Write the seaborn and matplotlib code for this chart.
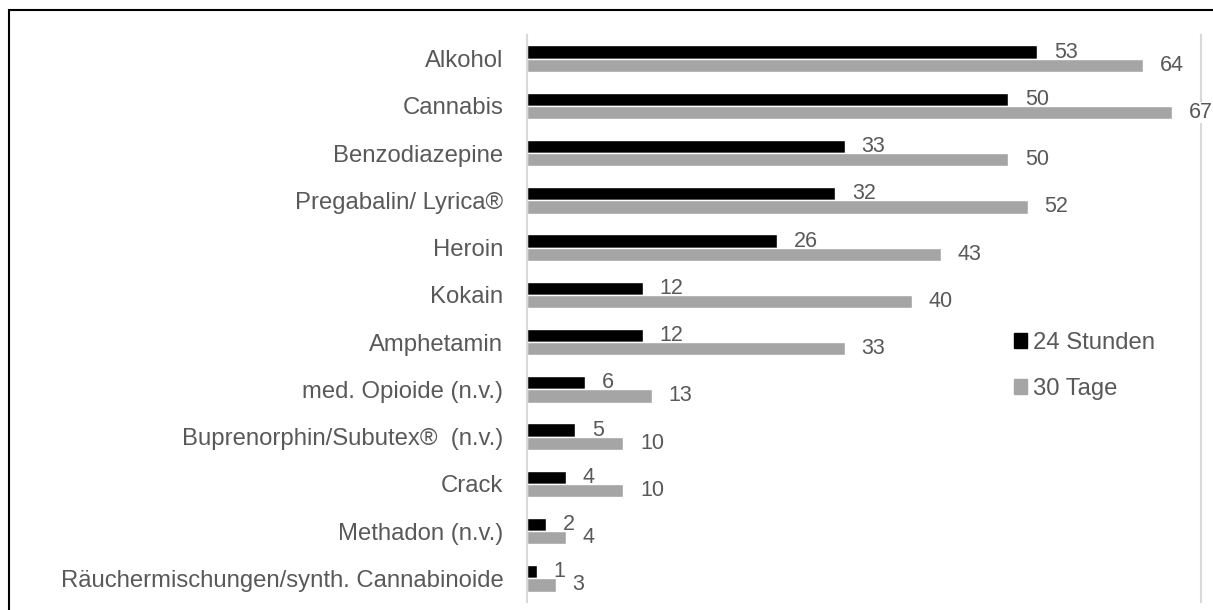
import pandas as pd
import matplotlib.pyplot as plt
import matplotlib.patches as mpatches
import seaborn as sns

substanzen = ['Alkohol', 'Cannabis', 'Benzodiazepine', 'Pregabalin/ Lyrica®', 'Heroin',
              'Kokain', 'Amphetamin', 'med. Opioide (n.v.)', 'Buprenorphin/Subutex®  (n.v.)',
              'Crack', 'Methadon (n.v.)', 'Räuchermischungen/synth. Cannabinoide']
stunden_24 = [53, 50, 33, 32, 26, 12, 12, 6, 5, 4, 2, 1]
tage_30 = [64, 67, 50, 52, 43, 40, 33, 13, 10, 10, 4, 3]
zeitraeume = ['24 Stunden', '30 Tage']

df = pd.DataFrame({
    'Substanz': substanzen * 2,
    'Wert': stunden_24 + tage_30,
    'Zeitraum': [zeitraeume[0]] * len(substanzen) + [zeitraeume[1]] * len(substanzen),
})

sns.set_theme(style='white')
plt.rcParams['font.family'] = ['Liberation Sans', 'DejaVu Sans']
txt = '#595959'
farben = ['#000000', '#A5A5A5']

fig = plt.figure(figsize=(12.13, 6.10), dpi=100)
ax = fig.add_axes([527 / 1213, 1 - 602 / 610, (1201 - 527) / 1213, (602 - 35) / 610])

sns.barplot(data=df, y='Substanz', x='Wert', hue='Zeitraum', orient='h',
            palette=farben, width=0.56, ax=ax, legend=False, saturation=1)

ax.bar_label(ax.containers[0], padding=12, fontsize=15.5, color=txt)
# Beschriftung der grauen Balken verdeckt die rechte Linie (wie im Original)
for t in ax.bar_label(ax.containers[1], padding=12, fontsize=15.5, color=txt):
    t.set_bbox(dict(facecolor='white', edgecolor='none', pad=0.3))

ax.set_xlim(0, 70)
ax.set_xlabel(None)
ax.set_ylabel(None)
ax.set_xticks([])
ax.tick_params(axis='y', length=0, pad=17, labelsize=17.2, labelcolor=txt)
for s in ['top', 'bottom']:
    ax.spines[s].set_visible(False)
ax.spines['left'].set_color('#D9D9D9')
ax.spines['left'].set_linewidth(1.5)
ax.spines['right'].set_color('#D9D9D9')
ax.spines['right'].set_linewidth(1.5)

handles = [mpatches.Patch(color=c) for c in farben]
fig.legend(handles, zeitraeume, loc='upper left', bbox_to_anchor=(1014 / 1213, 1 - 332 / 610),
           frameon=False, fontsize=17.2, labelcolor=txt, handlelength=0.55, handleheight=0.55,
           handletextpad=0.25, labelspacing=1.0, borderpad=0, borderaxespad=0)

# Rahmen um die Grafik
rahmen = mpatches.Rectangle((8.5 / 1213, -0.05), 1.1, 1.05 - 9.5 / 610, transform=fig.transFigure,
                            fill=False, edgecolor='black', linewidth=1.5, clip_on=False)
fig.patches.append(rahmen)

fig.savefig('out.png', dpi=100)
